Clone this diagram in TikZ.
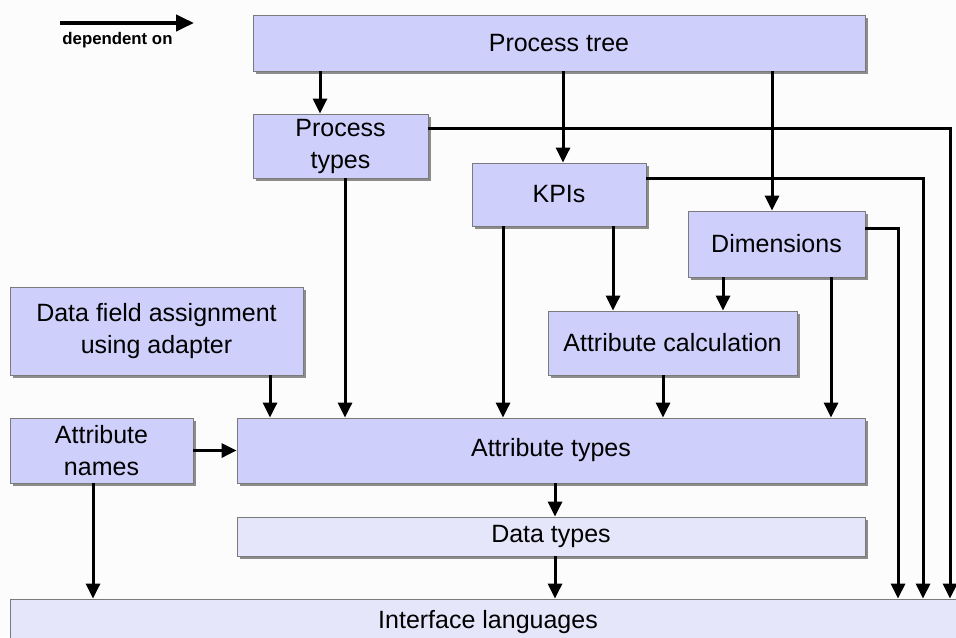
\documentclass[tikz,border=0pt]{standalone}
\usepackage{fontspec}
\setmainfont{Liberation Sans}
\usetikzlibrary{arrows.meta,shadows}

\tikzset{
  boite/.style={draw=my_bord, fill=my_lavande, line width=0.4pt, inner sep=0pt, align=center,
    font=\fontsize{12.5}{16}\selectfont, drop shadow={shadow xshift=1.5pt, shadow yshift=-1.5pt, fill=black!45, opacity=1}},
  boite_claire/.style={boite, fill=my_lavande_claire},
  fleche/.style={line width=1.5pt, -{Triangle[length=7.5pt,width=7pt]}},
  trait/.style={line width=1.5pt}
}

\begin{document}
\begin{tikzpicture}[x=0.5pt,y=-0.5pt]
\definecolor{my_lavande}{HTML}{CFCFFC}
\definecolor{my_lavande_claire}{HTML}{E6E6FA}
\definecolor{my_bord}{HTML}{7A7A7A}
\definecolor{my_fond}{HTML}{FCFCFC}

\useasboundingbox (0,0) rectangle (956,637);
\clip (0,0) rectangle (956,637);
\fill[my_fond] (0,0) rectangle (956,637);%le fond

% la legende
\coordinate (leg_a) at (60,23);
\coordinate (leg_b) at (194,23);
\draw[line width=2pt, -{Triangle[length=9pt,width=8pt]}] (leg_a) -- (leg_b);
\node[anchor=west, inner sep=0pt, font=\fontsize{8.4}{9}\bfseries] (legende) at (62,40) {dependent on};

% les boites
\node[boite, minimum width=306pt, minimum height=28pt] (arbre) at (559,43) {Process tree};
\node[boite, minimum width=87.5pt, minimum height=32pt] (types_proc) at (340.5,146) {Process\\types};
\node[boite, minimum width=87pt, minimum height=31.5pt] (kpi) at (559,194.5) {KPIs};
\node[boite, minimum width=88.5pt, minimum height=33pt] (dim) at (776.5,244) {Dimensions};
\node[boite, minimum width=124.5pt, minimum height=32pt] (calc) at (672.5,343) {Attribute calculation};
\node[boite, minimum width=146.5pt, minimum height=44pt] (champ) at (156.5,331) {Data field assignment\\using adapter};
\node[boite, minimum width=91.5pt, minimum height=32.5pt] (noms) at (101.5,450.5) {Attribute\\names};
\node[boite, minimum width=314pt, minimum height=32.5pt] (attr) at (551,450.5) {Attribute types};
\node[boite_claire, minimum width=314pt, minimum height=19.5pt] (donnees) at (551,536.5) {Data types};
\node[boite_claire, minimum width=478pt, minimum height=23pt] (interface) at (488,622) {Interface languages};

% les colonnes des fleches
\coordinate (c_types) at (320,0);
\coordinate (c_kpi) at (563,0);
\coordinate (c_dim) at (772,0);
\coordinate (c_tp) at (345,0);
\coordinate (c_champ) at (270,0);
\coordinate (c_kpi_a) at (503,0);
\coordinate (c_kpi_c) at (613,0);
\coordinate (c_dim_c) at (723,0);
\coordinate (c_calc) at (663,0);
\coordinate (c_dim_a) at (831,0);
\coordinate (c_don) at (555,0);
\coordinate (c_noms) at (93,0);
\coordinate (r_tp) at (950,128);%retour process types
\coordinate (r_kpi) at (923,178);%retour KPIs
\coordinate (r_dim) at (898,228);%retour dimensions

% les fleches
\draw[fleche] (arbre.south -| c_types) -- (types_proc.north -| c_types);
\draw[fleche] (arbre.south -| c_kpi) -- (kpi.north -| c_kpi);
\draw[fleche] (arbre.south -| c_dim) -- (dim.north -| c_dim);
\draw[fleche] (types_proc.south -| c_tp) -- (attr.north -| c_tp);
\draw[fleche] (champ.south -| c_champ) -- (attr.north -| c_champ);
\draw[fleche] (kpi.south -| c_kpi_a) -- (attr.north -| c_kpi_a);
\draw[fleche] (kpi.south -| c_kpi_c) -- (calc.north -| c_kpi_c);
\draw[fleche] (dim.south -| c_dim_c) -- (calc.north -| c_dim_c);
\draw[fleche] (calc.south -| c_calc) -- (attr.north -| c_calc);
\draw[fleche] (dim.south -| c_dim_a) -- (attr.north -| c_dim_a);
\draw[fleche] (noms.east) -- (attr.west);
\draw[fleche] (attr.south -| c_don) -- (donnees.north -| c_don);
\draw[fleche] (donnees.south -| c_don) -- (interface.north -| c_don);
\draw[fleche] (noms.south -| c_noms) -- (interface.north -| c_noms);
\draw[fleche] (types_proc.east |- r_tp) -| (interface.north -| r_tp);
\draw[fleche] (kpi.east |- r_kpi) -| (interface.north -| r_kpi);
\draw[fleche] (dim.east |- r_dim) -| (interface.north -| r_dim);

\end{tikzpicture}
\end{document}
